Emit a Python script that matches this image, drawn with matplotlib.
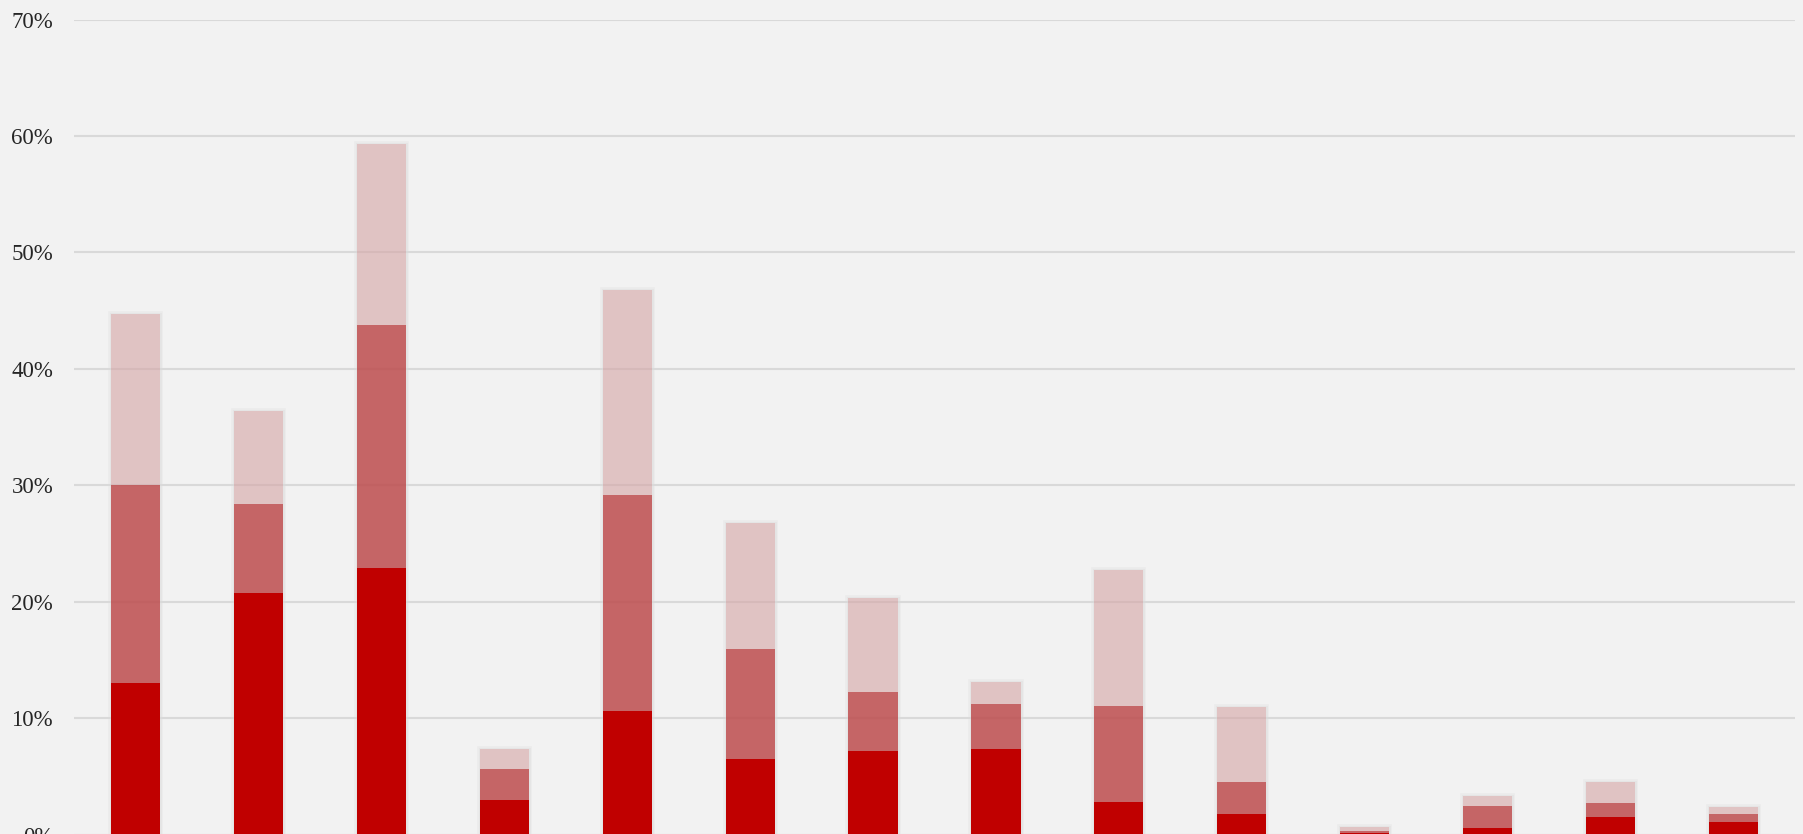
import matplotlib
matplotlib.use('Agg')
import matplotlib.pyplot as plt
import matplotlib.patheffects as pe
import numpy as np

# shares per category (percent, cumulative levels)
dark_share = [13.0, 20.8, 22.9, 3.0, 10.6, 6.5, 7.2, 7.35, 2.85, 1.8, 0.2, 0.55, 1.55, 1.15]
mid_share = [30.0, 28.4, 43.8, 5.65, 29.2, 16.0, 12.3, 11.2, 11.05, 4.55, 0.35, 2.5, 2.75, 1.8]
light_share = [44.7, 36.35, 59.3, 7.35, 46.8, 26.8, 20.3, 13.1, 22.7, 11.0, 0.7, 3.35, 4.55, 2.4]
y_ticks = [0, 10, 20, 30, 40, 50, 60, 70]

bg = '#f2f2f2'
plt.rcParams['font.family'] = ['Liberation Serif', 'DejaVu Serif']

fig = plt.figure(figsize=(18.03, 8.34), dpi=100, facecolor=bg)
W, H = 1803.0, 834.0
ax = fig.add_axes([74 / W, -0.9 / H, (1795 - 74) / W, 815.4 / H])
ax.set_facecolor(bg)

x = np.arange(len(dark_share))
dark = np.array(dark_share)
mid = np.array(mid_share)
light = np.array(light_share)
width = 0.4

# soft shadow behind every full bar
shadow = [pe.Stroke(linewidth=4, foreground='#808080', alpha=0.06),
          pe.Stroke(linewidth=2, foreground='#808080', alpha=0.06),
          pe.Normal()]
ax.bar(x, light, width, color=bg, zorder=1, path_effects=shadow)

ax.bar(x, dark, width, color='#c00000', zorder=3)
ax.bar(x, mid - dark, width, bottom=dark, color='#bd4c4d', alpha=0.85, zorder=3)
ax.bar(x, light - mid, width, bottom=mid, color='#d4a4a5', alpha=0.6, zorder=3)

ax.set_xlim(-0.5, len(x) - 0.5)
ax.set_ylim(0, 70)
ax.set_yticks(y_ticks)
ax.set_yticklabels(['%d%%' % t for t in y_ticks], fontsize=16.5, color='#262626')
ax.tick_params(axis='y', length=0, pad=15)
ax.tick_params(axis='x', length=0, labelbottom=False)
for lbl in ax.get_yticklabels():
    lbl.set_clip_on(False)

ax.grid(True, axis='y', color='#d9d9d9', linewidth=1.5, zorder=2)
ax.set_axisbelow(False)
for s in ax.spines.values():
    s.set_visible(False)

fig.savefig('out.png', dpi=100, facecolor=bg)
